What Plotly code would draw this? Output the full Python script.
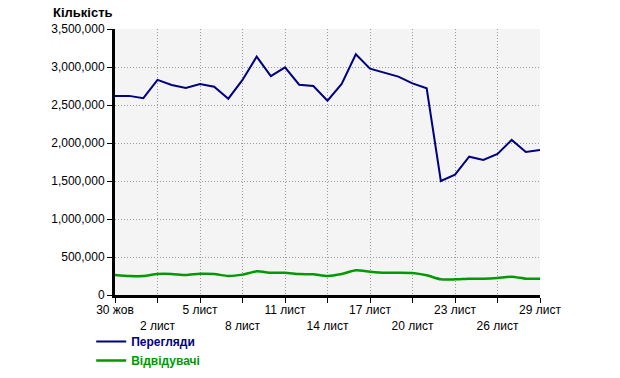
import plotly.graph_objects as go
import pandas as pd

dates = pd.date_range("2009-10-30", "2009-11-29", freq="D").strftime("%Y-%m-%d").tolist()

views = [2618000, 2620000, 2590000, 2830000, 2763000, 2724000, 2776000, 2740000,
         2583000, 2830000, 3136000, 2880000, 2996000, 2767000, 2750000, 2557000,
         2776000, 3167000, 2978000, 2930000, 2873000, 2785000, 2720000, 1500000,
         1583000, 1820000, 1776000, 1855000, 2040000, 1882000, 1908000]

visitors = [263000, 250000, 250000, 276000, 276000, 263000, 280000, 276000,
            250000, 268000, 311000, 293000, 293000, 276000, 272000, 250000,
            276000, 325000, 307000, 293000, 293000, 289000, 259000, 206000,
            206000, 215000, 215000, 224000, 241000, 215000, 215000]

tick_dates = dates[::3]
tick_labels = ["30 жов", "2 лист", "5 лист", "8 лист", "11 лист", "14 лист",
               "17 лист", "20 лист", "23 лист", "26 лист", "29 лист"]
tick_text = [t if i % 2 == 0 else "<br>" + t for i, t in enumerate(tick_labels)]

y_ticks = [0, 500000, 1000000, 1500000, 2000000, 2500000, 3000000, 3500000]

NAVY = "#000080"
GREEN = "#009900"

fig = go.Figure()
fig.add_trace(go.Scatter(
    x=dates, y=views, mode="lines",
    line=dict(color=NAVY, width=2),
    name="<b><span style='color:#000080'>Перегляди</span></b>"))
fig.add_trace(go.Scatter(
    x=dates, y=visitors, mode="lines",
    line=dict(color=GREEN, width=2.5, shape="spline", smoothing=0.6),
    name="<b><span style='color:#009900'>Відвідувачі</span></b>"))

fig.update_layout(
    width=620, height=378,
    margin=dict(l=115, r=80, t=29, b=83, autoexpand=False),
    paper_bgcolor="white",
    plot_bgcolor="#f4f4f4",
    font=dict(family="Liberation Sans, Arial, sans-serif", size=12, color="black"),
    title=dict(text="<b>Кількість</b>", x=53/620, xanchor="left", xref="container",
               y=1 - 12/378, yanchor="middle", yref="container",
               font=dict(size=13, color="black")),
    showlegend=True,
    legend=dict(orientation="v", x=-0.056, xanchor="left", y=-0.12, yanchor="top",
                bgcolor="rgba(0,0,0,0)", font=dict(size=12), tracegroupgap=0,
                itemwidth=30),
)

fig.update_xaxes(
    type="date",
    range=[dates[0], dates[-1]],
    tickmode="array", tickvals=tick_dates, ticktext=tick_text, tickangle=0,
    ticklabelstandoff=-3,
    showgrid=True, gridcolor="#999999", griddash="1px,2px", gridwidth=1,
    showline=True, linecolor="black", linewidth=3,
    ticks="outside", ticklen=5, tickcolor="black", tickwidth=1,
    zeroline=False, automargin=False,
)
fig.update_yaxes(
    range=[0, 3500000],
    tickmode="array", tickvals=y_ticks, tickformat=",d",
    showgrid=True, gridcolor="#999999", griddash="1px,2px", gridwidth=1,
    showline=True, linecolor="black", linewidth=3,
    ticks="outside", ticklen=5, tickcolor="black", tickwidth=1,
    zeroline=False, automargin=False,
)

fig.write_html("out.html")
